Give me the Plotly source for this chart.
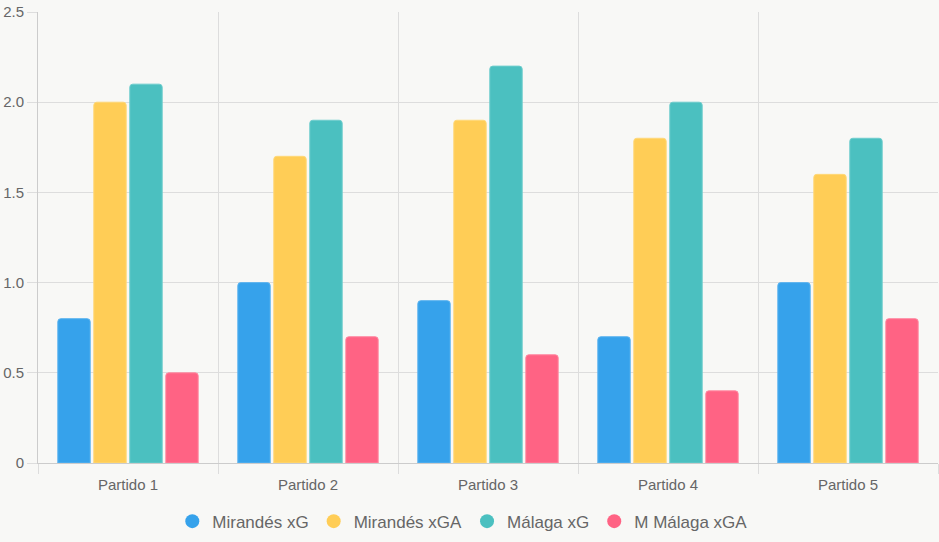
import plotly.graph_objects as go

categories = ["Partido 1", "Partido 2", "Partido 3", "Partido 4", "Partido 5"]
series_names = ["Mirandés xG", "Mirandés xGA", "Málaga xG", "M Málaga xGA"]
mirandes_xg = [0.8, 1.0, 0.9, 0.7, 1.0]
mirandes_xga = [2.0, 1.7, 1.9, 1.8, 1.6]
malaga_xg = [2.1, 1.9, 2.2, 2.0, 1.8]
malaga_xga = [0.5, 0.7, 0.6, 0.4, 0.8]
y_tick_vals = [0, 0.5, 1.0, 1.5, 2.0, 2.5]
y_tick_text = ["0", "0.5", "1.0", "1.5", "2.0", "2.5"]

colors = ["#36A2EB", "#FFCD56", "#4BC0C0", "#FF6384"]
borders = ["#5EB4EF", "#FFD878", "#6ECDCD", "#FF8AA2"]
series = [mirandes_xg, mirandes_xga, malaga_xg, malaga_xga]

fig = go.Figure()
for name, vals, c, b in zip(series_names, series, colors, borders):
    fig.add_trace(go.Bar(x=categories, y=vals, name=name, marker=dict(color=c, line=dict(color=b, width=1)),
                         legendgroup=name, showlegend=False))
for name, c in zip(series_names, colors):
    fig.add_trace(go.Scatter(x=[None], y=[None], mode="markers", name=name, legendgroup=name,
                             marker=dict(color=c, size=14, symbol="circle")))

font = "Liberation Sans, Arial, sans-serif"
fig.update_layout(
    width=939, height=542,
    margin=dict(l=38, r=1, t=12, b=79),
    paper_bgcolor="#f8f8f6", plot_bgcolor="#f8f8f6",
    barmode="group", bargap=0.2, bargroupgap=0.1, barcornerradius=3,
    font=dict(family=font, size=15, color="#666666"),
    showlegend=True,
    legend=dict(orientation="h", x=0.472, xanchor="center", y=-0.09, yanchor="top",
                font=dict(size=17, color="#666666"), bgcolor="rgba(0,0,0,0)", itemclick=False,
                itemdoubleclick=False),
    xaxis=dict(range=[-0.5, 4.5], tickson="boundaries", showgrid=True, gridcolor="#dddddd",
               ticks="outside", ticklen=10, tickcolor="#dddddd", showline=True, linecolor="#cccccc",
               ticklabelstandoff=8, tickfont=dict(size=15, color="#666666"), fixedrange=True),
    yaxis=dict(range=[0, 2.5], tickvals=y_tick_vals, ticktext=y_tick_text, showgrid=True,
               gridcolor="#dddddd", zeroline=False, ticks="outside", ticklen=10, tickcolor="#dddddd",
               showline=True, linecolor="#cccccc", tickfont=dict(size=15, color="#666666"), fixedrange=True),
)
fig.write_html("out.html")
